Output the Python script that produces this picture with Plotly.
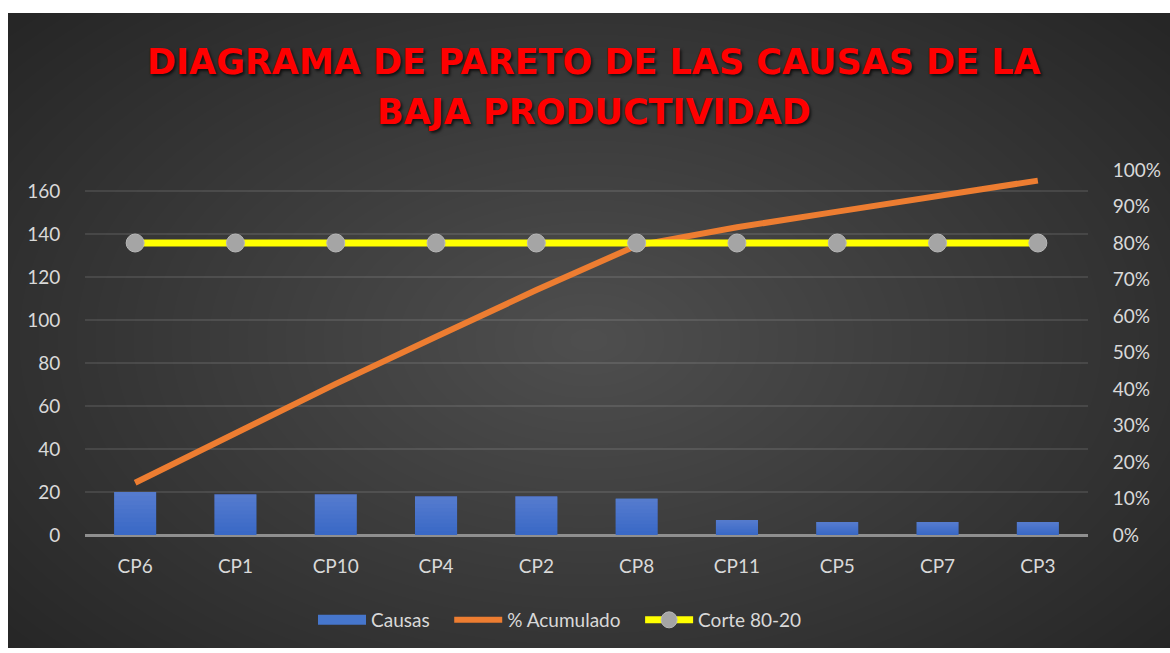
import plotly.graph_objects as go

# Pareto data
categorias = ["CP6", "CP1", "CP10", "CP4", "CP2", "CP8", "CP11", "CP5", "CP7", "CP3"]
causas = [20, 19, 19, 18, 18, 17, 7, 6, 6, 6]
acumulado = [0.143, 0.279, 0.414, 0.543, 0.671, 0.793, 0.843, 0.886, 0.929, 0.971]
corte = [0.80] * len(categorias)

titulo_1 = "DIAGRAMA DE PARETO DE LAS CAUSAS DE LA"
titulo_2 = "BAJA PRODUCTIVIDAD"

W, H = 1170, 653
L, R, T, B = 85, 82, 170, 118
PW, PH = W - L - R, H - T - B


def px_x(px):
    return (px - L) / PW


def px_y(py):
    return (H - B - py) / PH


TXT = "#d9d9d9"
FONT = "Lato"
BAR_COLOR = "#3a69c6"
BAR_W = 0.42

fig = go.Figure()

fig.add_trace(go.Bar(
    x=categorias, y=causas, name="Causas",
    marker=dict(color=BAR_COLOR, line=dict(width=0)),
    width=BAR_W, yaxis="y", showlegend=False, legendgroup="causas",
))
# vertical sheen on each bar: lighter toward the top
STEPS = 9
for i in range(1, STEPS + 1):
    f = i / (STEPS + 1)
    fig.add_trace(go.Bar(
        x=categorias, y=[v * (1 - f) for v in causas], base=[v * f for v in causas],
        marker=dict(color="rgba(255,255,255,0.018)", line=dict(width=0)),
        width=BAR_W, yaxis="y", showlegend=False, hoverinfo="skip",
        legendgroup="causas",
    ))
# legend entry for the bars drawn as a wide swatch
fig.add_trace(go.Scatter(
    x=[None], y=[None], name="Causas\u00a0\u00a0\u00a0", mode="lines",
    line=dict(color="#4676cc", width=14), legendgroup="causas",
))
fig.add_trace(go.Scatter(
    x=categorias, y=acumulado, name="% Acumulado\u00a0\u00a0\u00a0", mode="lines",
    line=dict(color="#ed7d31", width=6), yaxis="y2",
))
fig.add_trace(go.Scatter(
    x=categorias, y=corte, name="Corte 80-20", mode="lines+markers",
    line=dict(color="#ffff00", width=7),
    marker=dict(color="#a5a5a5", size=18, line=dict(color="#b8b8b8", width=1)),
    yaxis="y2",
))

# dark chart background with a soft radial highlight
shapes = [dict(
    type="rect", xref="paper", yref="paper", layer="below",
    x0=px_x(8), x1=px_x(W), y0=px_y(648), y1=px_y(13),
    fillcolor="#262626", line=dict(width=0),
)]
cx, cy = 589, 340
rx, ry = 760, 470
N = 40
for k in range(N, 0, -1):
    f = k / N
    shapes.append(dict(
        type="circle", xref="paper", yref="paper", layer="below",
        x0=px_x(cx - rx * f), x1=px_x(cx + rx * f),
        y0=px_y(cy + ry * f), y1=px_y(cy - ry * f),
        fillcolor="rgba(255,255,255,0.0062)", line=dict(width=0),
    ))
# keep the highlight inside the dark panel (cover spill with white)
shapes += [
    dict(type="rect", xref="paper", yref="paper", layer="below",
         x0=px_x(-200), x1=px_x(W + 200), y0=px_y(13), y1=px_y(-300),
         fillcolor="white", line=dict(width=0)),
    dict(type="rect", xref="paper", yref="paper", layer="below",
         x0=px_x(-200), x1=px_x(8), y0=px_y(H + 300), y1=px_y(-300),
         fillcolor="white", line=dict(width=0)),
    dict(type="rect", xref="paper", yref="paper", layer="below",
         x0=px_x(-200), x1=px_x(W + 200), y0=px_y(H + 300), y1=px_y(648),
         fillcolor="white", line=dict(width=0)),
]

title_font = dict(family="DejaVu Sans", size=35, color="#ff0000", weight="bold",
                  shadow="2px 2px 3px rgba(0,0,0,0.7)")
annotations = [
    dict(text=titulo_1, x=px_x(594), y=px_y(62), xref="paper", yref="paper",
         showarrow=False, xanchor="center", yanchor="middle", font=title_font),
    dict(text=titulo_2, x=px_x(594), y=px_y(112), xref="paper", yref="paper",
         showarrow=False, xanchor="center", yanchor="middle", font=title_font),
]

fig.update_layout(
    width=W, height=H,
    margin=dict(l=L, r=R, t=T, b=B, pad=0),
    paper_bgcolor="white",
    plot_bgcolor="rgba(0,0,0,0)",
    shapes=shapes,
    annotations=annotations,
    barmode="overlay",
    font=dict(family=FONT, size=19, color=TXT),
    xaxis=dict(
        automargin=False, range=[-0.5, len(categorias) - 0.5],
        showgrid=False, showline=False, zeroline=False,
        ticks="outside", ticklen=14, tickcolor="rgba(0,0,0,0)",
        tickfont=dict(family=FONT, size=19, color=TXT),
    ),
    yaxis=dict(
        automargin=False,
        range=[0, 170], tickvals=[0, 20, 40, 60, 80, 100, 120, 140, 160],
        showgrid=True, gridcolor="rgba(255,255,255,0.10)", gridwidth=1.5,
        zeroline=True, zerolinecolor="#8f8f8f", zerolinewidth=2.5,
        showline=False,
        ticks="outside", ticklen=20, tickcolor="rgba(0,0,0,0)",
        tickfont=dict(family=FONT, size=19, color=TXT),
    ),
    yaxis2=dict(
        automargin=False,
        range=[0, 1], dtick=0.1, tickformat=".0%",
        overlaying="y", side="right",
        showgrid=False, zeroline=False, showline=False,
        ticks="outside", ticklen=20, tickcolor="rgba(0,0,0,0)",
        tickfont=dict(family=FONT, size=19, color=TXT),
    ),
    legend=dict(
        orientation="h", x=px_x(560), y=px_y(620),
        xanchor="center", yanchor="middle",
        bgcolor="rgba(0,0,0,0)",
        font=dict(family=FONT, size=19, color=TXT),
        itemwidth=48, traceorder="normal",
    ),
    showlegend=True,
)

fig.write_html("out.html")
